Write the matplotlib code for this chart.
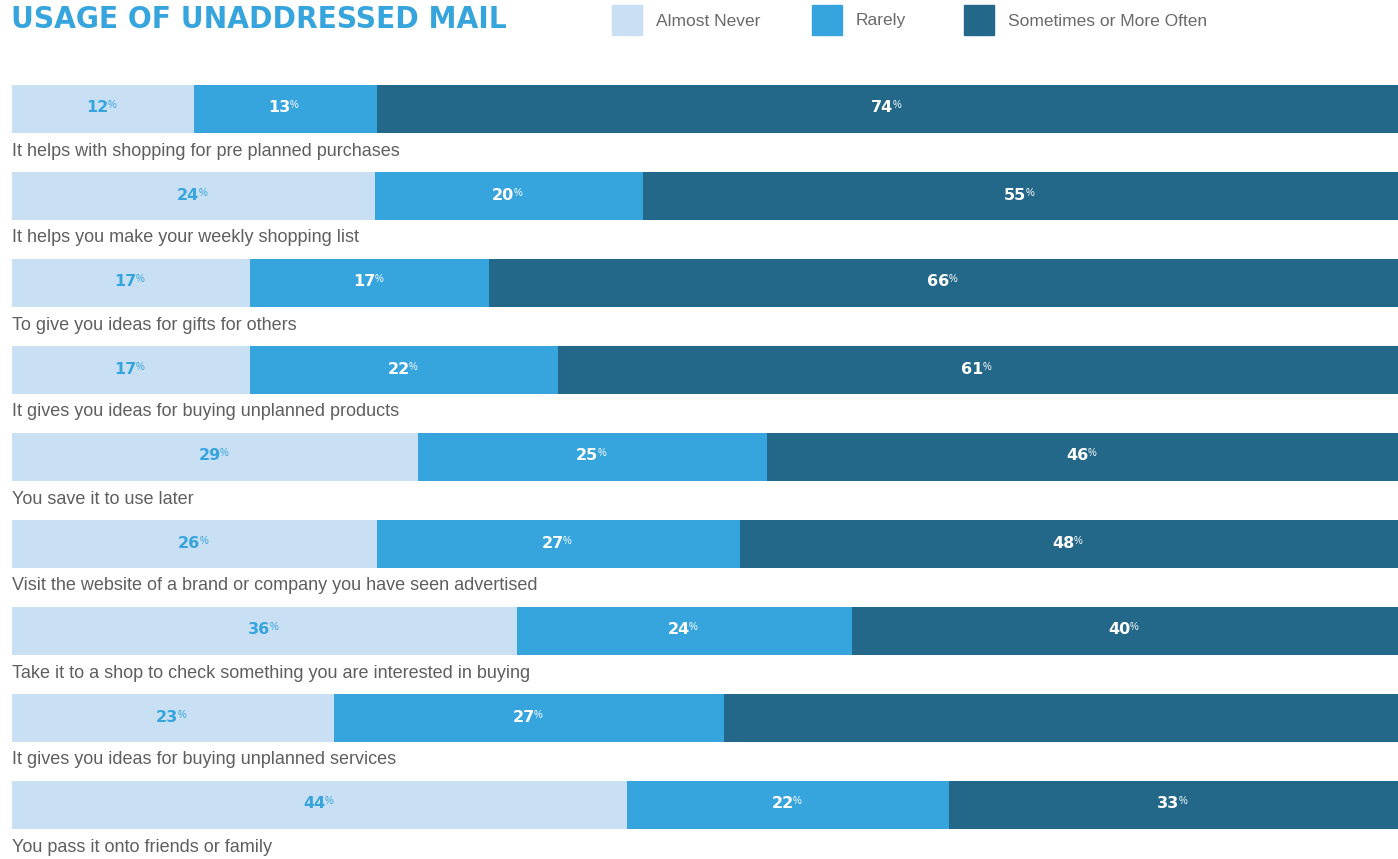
import matplotlib
matplotlib.use("Agg")
import matplotlib.pyplot as plt
from matplotlib.patches import Rectangle

# ---- data (segment shares as drawn, and printed labels) ----
categories = [
    "It helps with shopping for pre planned purchases",
    "It helps you make your weekly shopping list",
    "To give you ideas for gifts for others",
    "It gives you ideas for buying unplanned products",
    "You save it to use later",
    "Visit the website of a brand or company you have seen advertised",
    "Take it to a shop to check something you are interested in buying",
    "It gives you ideas for buying unplanned services",
    "You pass it onto friends or family",
]
almost_never = [13.1, 26.2, 17.2, 17.2, 29.3, 26.3, 36.4, 23.2, 44.4]
rarely = [13.2, 19.3, 17.2, 22.2, 25.2, 26.2, 24.2, 28.2, 23.2]
sometimes = [73.7, 54.5, 65.6, 60.6, 45.5, 47.5, 39.4, 48.6, 32.4]
label_never = ["12", "24", "17", "17", "29", "26", "36", "23", "44"]
label_rarely = ["13", "20", "17", "22", "25", "27", "24", "27", "22"]
label_sometimes = ["74", "55", "66", "61", "46", "48", "40", "", "33"]
series_names = ["Almost Never", "Rarely", "Sometimes or More Often"]

colors = ["#c8dff4", "#37a5dd", "#236889"]
text_colors = ["#37a5dd", "white", "white"]

W, H = 1398, 859
fig = plt.figure(figsize=(W / 100, H / 100), dpi=100)
ax = fig.add_axes([12 / W, 0, (W - 12) / W, 1])
ax.set_xlim(0, 100)
ax.set_ylim(H, 0)  # y in pixel units from top
ax.axis("off")

row0, step, bh = 109, 87, 48
num_font = dict(family=["DejaVu Sans"], weight="bold", size=11.5)

for i, cat in enumerate(categories):
    yc = row0 + step * i
    vals = [almost_never[i], rarely[i], sometimes[i]]
    labs = [label_never[i], label_rarely[i], label_sometimes[i]]
    left = 0
    for j in range(3):
        ax.barh(yc, vals[j], left=left, height=bh, color=colors[j], edgecolor="none")
        if labs[j]:
            cx = left + vals[j] / 2
            t = ax.annotate(labs[j], xy=(cx, yc - 1), xytext=(-4, 0), textcoords="offset points",
                            ha="center", va="center", color=text_colors[j], **num_font)
            ax.annotate("%", xy=(1, 1), xycoords=t, xytext=(-0.5, 0), textcoords="offset points",
                        ha="left", va="top", color=text_colors[j],
                        family=["Liberation Sans", "DejaVu Sans"], size=7)
        left += vals[j]
    ax.text(0, yc + 42, cat, ha="left", va="center", color="#5f5f5f",
            family=["Liberation Sans", "DejaVu Sans"], size=13)

# ---- title ----
fig.text(11 / W, 1 - 19 / H, "USAGE OF UNADDRESSED MAIL", ha="left", va="center",
         color="#37a5dd", family=["DejaVu Sans"], stretch="condensed",
         weight="heavy", size=22.5)

# ---- legend ----
leg_x = [612, 812, 964]
for j, name in enumerate(series_names):
    fig.patches.append(Rectangle((leg_x[j] / W, 1 - 35 / H), 30 / W, 30 / H,
                                 transform=fig.transFigure, color=colors[j]))
    fig.text((leg_x[j] + 44) / W, 1 - 21 / H, name, ha="left", va="center",
             color="#6a6a6a", family=["Liberation Sans", "DejaVu Sans"], size=12.5)

fig.savefig("out.png", dpi=100)
